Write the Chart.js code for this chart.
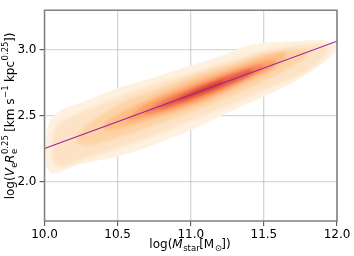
<!DOCTYPE html>
<html>
<head>
<meta charset="utf-8">
<script src="https://cdn.jsdelivr.net/npm/chart.js@4.4.0/dist/chart.umd.min.js"></script>
<style>
  html, body { margin: 0; padding: 0; background: #fff; }
</style>
</head>
<body>
<canvas id="myChart" width="354" height="256"></canvas>
<script>
// axis ticks
const xTicks = [10.0, 10.5, 11.0, 11.5, 12.0];
const yTicks = [2.0, 2.5, 3.0];

// fitted relation
const fitX = [10.0, 12.0];
const fitY = [2.25, 3.065];

// density contours, outermost first (x = log Mstar, y = log Ve Re^0.25)
const level1 = [[10.01, 2.30], [10.02, 2.40], [10.05, 2.48], [10.11, 2.54], [10.3, 2.62], [10.5, 2.71], [10.75, 2.79],
  [11.0, 2.88], [11.2, 2.95], [11.38, 3.03], [11.52, 3.055], [11.7, 3.065], [11.93, 3.07], [11.99, 3.04], [12.0, 3.0],
  [11.88, 2.88], [11.68, 2.74], [11.47, 2.63], [11.25, 2.52], [11.0, 2.39], [10.74, 2.275], [10.5, 2.19],
  [10.24, 2.13], [10.1, 2.07], [10.05, 2.06], [10.01, 2.12]];
const level2 = [[10.05, 2.30], [10.08, 2.42], [10.2, 2.50], [10.5, 2.64], [10.75, 2.74], [11.0, 2.82], [11.25, 2.91],
  [11.5, 2.99], [11.7, 3.03], [11.88, 3.04], [11.94, 3.01], [11.9, 2.93], [11.75, 2.81], [11.5, 2.69], [11.25, 2.57],
  [11.0, 2.46], [10.75, 2.345], [10.5, 2.25], [10.25, 2.16], [10.1, 2.11], [10.05, 2.17]];
const level3 = [[10.22, 2.35], [10.3, 2.44], [10.5, 2.58], [10.75, 2.69], [11.0, 2.795], [11.25, 2.88], [11.5, 2.97],
  [11.7, 3.0], [11.8, 2.99], [11.75, 2.91], [11.5, 2.76], [11.25, 2.635], [11.0, 2.525], [10.75, 2.425], [10.5, 2.33],
  [10.3, 2.27], [10.22, 2.29]];
const level4 = [[10.4, 2.43], [10.5, 2.51], [10.75, 2.645], [11.0, 2.76], [11.25, 2.855], [11.5, 2.945], [11.65, 2.975],
  [11.62, 2.90], [11.5, 2.81], [11.25, 2.685], [11.0, 2.565], [10.75, 2.48], [10.5, 2.40], [10.41, 2.39]];
const level5 = [[10.55, 2.47], [10.7, 2.59], [10.9, 2.685], [11.1, 2.77], [11.3, 2.845], [11.5, 2.91], [11.58, 2.92],
  [11.56, 2.87], [11.4, 2.79], [11.2, 2.675], [11.0, 2.59], [10.8, 2.52], [10.6, 2.465]];
const level6 = [[10.68, 2.52], [10.8, 2.61], [11.0, 2.705], [11.2, 2.79], [11.4, 2.86], [11.5, 2.88],
  [11.48, 2.84], [11.3, 2.75], [11.1, 2.655], [10.9, 2.575], [10.7, 2.515]];
const level7 = [[10.78, 2.56], [10.9, 2.635], [11.1, 2.73], [11.3, 2.81], [11.42, 2.85],
  [11.4, 2.81], [11.2, 2.71], [11.0, 2.63], [10.8, 2.555]];
const level8 = [[10.92, 2.625], [11.05, 2.695], [11.22, 2.765], [11.2, 2.73], [11.05, 2.665], [10.93, 2.615]];

const levels = [level1, level2, level3, level4, level5, level6, level7, level8];
const levelColors = ['#fef1df', '#fde3c6', '#fdd3a6', '#fdbd87', '#fca068', '#f47f58', '#e65a40', '#d53a2b'];

const FONT = '"DejaVu Sans", sans-serif';

// axis titles with sub/superscripts
const yTitleRuns = [
  { t: 'log(' },
  { t: 'V', it: true, sub: 'e' },
  { t: 'R', it: true, sub: 'e', sup: '0.25' },
  { t: ' [km s', sup: '\u22121' },
  { t: ' kpc', sup: '0.25' },
  { t: '])' }
];
const xTitleRuns = [
  { t: 'log(' },
  { t: 'M', it: true, sub: 'star' },
  { t: '[M', sub: '\u2299' },
  { t: '])' }
];

function drawRuns(ctx, runs, cx, cy, angle) {
  const big = 12, small = 8.5;
  const fBig = it => (it ? 'italic ' : '') + big + 'px ' + FONT;
  const fSmall = small + 'px ' + FONT;
  let total = 0;
  const widths = runs.map(r => {
    ctx.font = fBig(r.it);
    const w = ctx.measureText(r.t).width;
    ctx.font = fSmall;
    const ws = Math.max(r.sub ? ctx.measureText(r.sub).width : 0, r.sup ? ctx.measureText(r.sup).width : 0);
    total += w + ws;
    return [w, ws];
  });
  ctx.save();
  ctx.translate(cx, cy);
  ctx.rotate(angle);
  ctx.fillStyle = '#000';
  ctx.textBaseline = 'alphabetic';
  ctx.textAlign = 'left';
  let x = -total / 2;
  runs.forEach((r, i) => {
    ctx.font = fBig(r.it);
    ctx.fillText(r.t, x, 0);
    x += widths[i][0];
    ctx.font = fSmall;
    if (r.sub) ctx.fillText(r.sub, x + 0.5, 3);
    if (r.sup) ctx.fillText(r.sup, x + 0.5, -5.5);
    x += widths[i][1];
  });
  ctx.restore();
}

// soften the inner contour levels so they blend like the KDE shading
const softenPlugin = {
  id: 'soften',
  beforeDatasetsDraw(chart) { chart.ctx.filter = 'none'; },
  afterDatasetDraw(chart, args) {
    if (args.index === 1) chart.ctx.filter = 'blur(1.8px)';
    if (args.index === levels.length) chart.ctx.filter = 'none';
  },
  afterDatasetsDraw(chart) { chart.ctx.filter = 'none'; }
};

const framePlugin = {
  id: 'frame',
  afterDraw(chart) {
    const { ctx, chartArea: a } = chart;
    ctx.save();
    ctx.strokeStyle = '#808080';
    ctx.lineWidth = 1.5;
    ctx.strokeRect(a.left, a.top, a.right - a.left, a.bottom - a.top);
    ctx.restore();
    drawRuns(ctx, yTitleRuns, 13.5, 116, -Math.PI / 2);
    drawRuns(ctx, xTitleRuns, 190, 248, 0);
  }
};

const datasets = [{
  type: 'scatter',
  data: fitX.map((x, i) => ({ x: x, y: fitY[i] })),
  showLine: true,
  borderColor: '#9a2398',
  borderWidth: 1.1,
  pointRadius: 0,
  fill: false,
  order: 0
}];
levels.forEach((lv, i) => {
  datasets.push({
    type: 'scatter',
    data: lv.map(p => ({ x: p[0], y: p[1] })),
    showLine: true,
    borderWidth: 0,
    borderColor: 'rgba(0,0,0,0)',
    backgroundColor: levelColors[i],
    pointRadius: 0,
    tension: 0.3,
    fill: 'shape',
    order: 20 - i
  });
});

const ctx = document.getElementById('myChart');
const myChart = new Chart(ctx, {
  type: 'scatter',
  data: { datasets: datasets },
  options: {
    responsive: false,
    devicePixelRatio: 1,
    animation: false,
    layout: { padding: { top: 3, right: 17, left: 0, bottom: 0 } },
    plugins: { legend: { display: false }, tooltip: { enabled: false } },
    scales: {
      x: {
        type: 'linear',
        min: 10, max: 12,
        z: 1,
        afterBuildTicks: s => { s.ticks = xTicks.map(v => ({ value: v })); },
        afterFit: s => { s.height = 35; },
        ticks: { font: { family: FONT, size: 12 }, color: '#000', padding: 2, maxRotation: 0,
          callback: v => v.toFixed(1) },
        grid: { color: 'rgba(150,150,150,0.38)', lineWidth: 1.3, tickLength: 5, tickColor: '#444', tickWidth: 1 },
        border: { display: false }
      },
      y: {
        type: 'linear',
        min: 1.7, max: 3.3,
        z: 1,
        afterBuildTicks: s => { s.ticks = yTicks.map(v => ({ value: v })); },
        afterFit: s => { s.width = 44.5; },
        ticks: { font: { family: FONT, size: 12 }, color: '#000', padding: 3,
          callback: v => v.toFixed(1) },
        grid: { color: 'rgba(150,150,150,0.38)', lineWidth: 1.3, tickLength: 5, tickColor: '#444', tickWidth: 1 },
        border: { display: false }
      }
    }
  },
  plugins: [softenPlugin, framePlugin]
});
</script>
</body>
</html>
